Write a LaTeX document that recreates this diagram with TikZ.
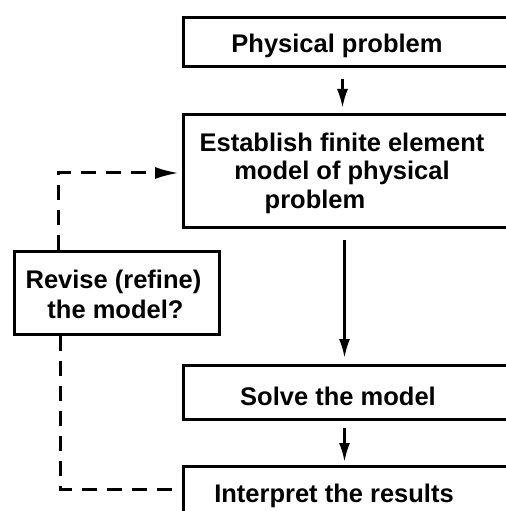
\documentclass[tikz,border=0pt]{standalone}
\usepackage{fontspec}
\setmainfont{Liberation Sans}
\usetikzlibrary{arrows.meta,calc}
\begin{document}
\begin{tikzpicture}[x=1bp,y=-1bp,
  box/.style={draw, line width=3bp, rectangle, inner sep=0pt, anchor=north west},
  lbl/.style={inner sep=0pt, anchor=base, font=\fontsize{25.5bp}{30bp}\selectfont\bfseries},
  arr/.style={line width=2.6bp, -{Latex[length=19bp,width=11bp]}},
  dline/.style={line width=3bp, dash pattern=on 15bp off 10bp},
  darr/.style={dline, -{Latex[length=24bp,width=12bp]}}]
\useasboundingbox (0,0) rectangle (506,511);
\clip (0,0) rectangle (506,511);
% boxes
\node[box, minimum width=348bp, minimum height=49bp] (b1) at (182,16) {};
\node[box, minimum width=348bp, minimum height=113bp] (b2) at (182,113) {};
\node[box, minimum width=205bp, minimum height=83bp] (b3) at (13,250) {};
\node[box, minimum width=348bp, minimum height=54bp] (b4) at (182,364) {};
\node[box, minimum width=348bp, minimum height=80bp] (b5) at (182,465) {};
% texts
\node[lbl] (t1) at (337,53) {Physical problem};
\node[lbl] (t2a) at (342,152) {Establish finite element};
\node[lbl] (t2b) at (342,180) {model of physical};
\node[lbl] (t2c) at (315,208) {problem};
\node[lbl] (t3a) at (113.5,288) {Revise (refine)};
\node[lbl] (t3b) at (115.5,318) {the model?};
\node[lbl] (t4) at (338,405) {Solve the model};
\node[lbl] (t5) at (334,502) {Interpret the results};
% arrows
\draw[arr] ([xshift=-15bp,yshift=-11bp]b1.south) -- ([xshift=-15bp,yshift=5bp]b2.north);
\draw[arr] ([xshift=-13bp,yshift=-11bp]b2.south) -- ([xshift=-13bp,yshift=6bp]b4.north);
\draw[arr] ([xshift=-13bp,yshift=-7bp]b4.south) -- ([xshift=-13bp,yshift=3bp]b5.north);
% dashed feedback
\coordinate (c1) at (58,173);
\coordinate (c2) at (60,489);
\draw[darr] (b3.north -| c1) -- (c1) -- ([xshift=-3bp]b2.west |- c1);
\draw[dline] (b3.south -| c2) -- (c2) -- (b5.west |- c2);
\end{tikzpicture}
\end{document}
